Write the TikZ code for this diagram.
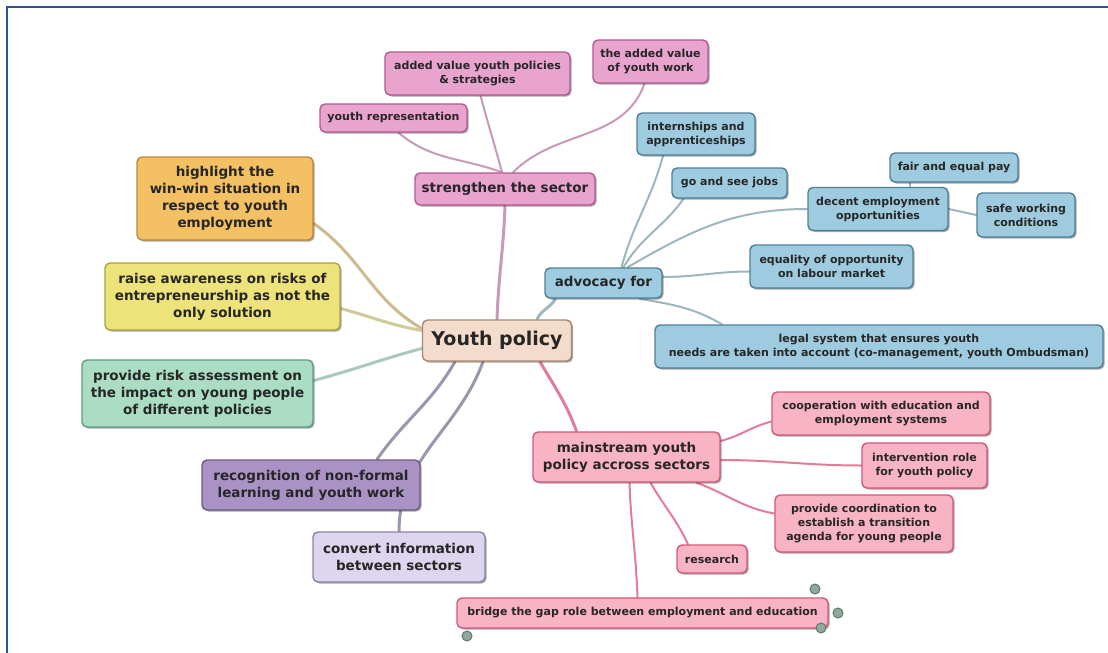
\documentclass[tikz,border=0pt]{standalone}
\usepackage{fontspec}
\setmainfont{DejaVu Sans}
\usetikzlibrary{shadows,backgrounds}

\definecolor{pinkfill}{HTML}{E9A3CF}
\definecolor{pinkdraw}{HTML}{B25A92}
\definecolor{pinklink}{HTML}{C79BB8}
\definecolor{bluefill}{HTML}{9ECBDF}
\definecolor{bluedraw}{HTML}{4F7F97}
\definecolor{bluelink}{HTML}{9FB6BF}
\definecolor{orangefill}{HTML}{F4C064}
\definecolor{orangedraw}{HTML}{B98A3C}
\definecolor{orangelink}{HTML}{CDBB8E}
\definecolor{yellowfill}{HTML}{EEE27A}
\definecolor{yellowdraw}{HTML}{ADA244}
\definecolor{yellowlink}{HTML}{CFCB98}
\definecolor{greenfill}{HTML}{ABDCC4}
\definecolor{greendraw}{HTML}{5F9C84}
\definecolor{greenlink}{HTML}{A9C9BB}
\definecolor{beigefill}{HTML}{F3DCCB}
\definecolor{beigedraw}{HTML}{A9876F}
\definecolor{purplefill}{HTML}{A993C4}
\definecolor{purpledraw}{HTML}{6C5A86}
\definecolor{purplelink}{HTML}{9C95AE}
\definecolor{lavfill}{HTML}{DDD6EE}
\definecolor{lavdraw}{HTML}{8C82A6}
\definecolor{redfill}{HTML}{F8B4C4}
\definecolor{reddraw}{HTML}{D4577A}
\definecolor{redlink}{HTML}{E27D98}
\definecolor{framecol}{HTML}{2C5590}
\definecolor{handlefill}{HTML}{8FAA9C}
\definecolor{handledraw}{HTML}{5C7A6C}

\begin{document}
\begin{tikzpicture}[x=1pt, y=1pt,
  box/.style={rectangle, rounded corners=5pt, draw, line width=1.4pt,
              align=center, inner sep=2pt, text=black!85,
              drop shadow={shadow xshift=1.5pt, shadow yshift=-1.5pt,
                           opacity=.35, fill=black}},
  leaf/.style={box, font=\fontsize{11}{14}\selectfont\bfseries},
  branch/.style={box, font=\fontsize{13.5}{17}\selectfont\bfseries},
  pinkbox/.style={fill=pinkfill, draw=pinkdraw},
  bluebox/.style={fill=bluefill, draw=bluedraw},
  redbox/.style={fill=redfill, draw=reddraw},
  link/.style={line width=2pt, line cap=round},
  thicklink/.style={line width=3pt, line cap=round},
  handle/.style={circle, draw=handledraw, fill=handlefill, line width=1pt,
                 minimum size=10pt, inner sep=0pt}
]
  \useasboundingbox (0,0) rectangle (1108,-653);
  \draw[framecol, line width=2.5pt] (7,-653) -- (7,-7) -- (1108,-7);

  % Centre
  \node[box, fill=beigefill, draw=beigedraw, minimum width=149pt, minimum height=41pt,
        font=\fontsize{19}{23}\selectfont\bfseries] (yp) at (497,-340.5) {Youth policy};

  % strengthen the sector
  \node[branch, pinkbox, minimum width=180pt, minimum height=32pt] (strength) at (505,-189) {strengthen the sector};
  \node[leaf, pinkbox, minimum width=147pt, minimum height=28pt] (yrep) at (393.5,-118) {youth representation};
  \node[leaf, pinkbox, minimum width=185pt, minimum height=43pt] (addval) at (477.5,-73.5) {added value youth policies\\\& strategies};
  \node[leaf, pinkbox, minimum width=115pt, minimum height=43pt] (theadd) at (650.5,-61.5) {the added value\\of youth work};

  % advocacy for
  \node[branch, bluebox, minimum width=117pt, minimum height=30pt] (advoc) at (603.5,-283) {advocacy for};
  \node[leaf, bluebox, minimum width=118pt, minimum height=42pt] (intern) at (696,-134) {internships and\\apprenticeships};
  \node[leaf, bluebox, minimum width=115pt, minimum height=30pt] (gosee) at (729.5,-183) {go and see jobs};
  \node[leaf, bluebox, minimum width=140pt, minimum height=43pt] (decent) at (878,-209) {decent employment\\opportunities};
  \node[leaf, bluebox, minimum width=128pt, minimum height=29pt] (fairpay) at (954,-167.5) {fair and equal pay};
  \node[leaf, bluebox, minimum width=98pt, minimum height=44pt] (safe) at (1026,-215) {safe working\\conditions};
  \node[leaf, bluebox, minimum width=163pt, minimum height=43pt] (equal) at (831.5,-266.5) {equality of opportunity\\on labour market};
  \node[leaf, bluebox, minimum width=448pt, minimum height=43pt] (legal) at (879,-346.5) {legal system that ensures youth\\needs are taken into account (co-management, youth Ombudsman)};

  % left branches
  \node[branch, fill=orangefill, draw=orangedraw, minimum width=176pt, minimum height=83pt] (highlight) at (225,-198.5) {highlight the\\win-win situation in\\respect to youth\\employment};
  \node[branch, fill=yellowfill, draw=yellowdraw, minimum width=235pt, minimum height=67pt] (raise) at (222.5,-296.5) {raise awareness on risks of\\entrepreneurship as not the\\only solution};
  \node[branch, fill=greenfill, draw=greendraw, minimum width=231pt, minimum height=67pt] (risk) at (197.5,-393.5) {provide risk assessment on\\the impact on young people\\of different policies};
  \node[branch, fill=purplefill, draw=purpledraw, minimum width=218pt, minimum height=50pt] (recog) at (311,-485) {recognition of non-formal\\learning and youth work};
  \node[branch, fill=lavfill, draw=lavdraw, minimum width=172pt, minimum height=50pt] (convert) at (399,-557) {convert information\\between sectors};

  % mainstream youth policy
  \node[branch, redbox, minimum width=187pt, minimum height=50pt] (mainstr) at (626.5,-457) {mainstream youth\\policy accross sectors};
  \node[leaf, redbox, minimum width=218pt, minimum height=43pt] (coop) at (881,-413.5) {cooperation with education and\\employment systems};
  \node[leaf, redbox, minimum width=125pt, minimum height=45pt] (interv) at (924.5,-465.5) {intervention role\\for youth policy};
  \node[leaf, redbox, minimum width=178pt, minimum height=57pt] (coord) at (864,-523.5) {provide coordination to\\establish a transition\\agenda for young people};
  \node[leaf, redbox, minimum width=70pt, minimum height=28pt] (research) at (712,-559) {research};
  \node[leaf, redbox, minimum width=371pt, minimum height=30pt] (bridge) at (642.5,-613) {bridge the gap role between employment and education};

  % Handles
  \node[handle] (h1) at (815,-589) {};
  \node[handle] (h2) at (838,-613) {};
  \node[handle] (h3) at (821,-628) {};
  \node[handle] (h4) at (467,-636) {};

  % Connexions
  \begin{scope}[on background layer]
    \fill[white] (0,0) rectangle (1108,-653);

    \draw[thicklink, pinklink] (yp.north) to[out=88, in=-92] (strength.south);
    \draw[link, pinklink] ([xshift=-3pt]strength.north) to[out=160, in=-40] ([xshift=5pt]yrep.south);
    \draw[link, pinklink] ([xshift=-3pt]strength.north) to[out=105, in=-75] ([xshift=3pt]addval.south);
    \draw[link, pinklink] ([xshift=8pt]strength.north) to[out=45, in=-110] ([xshift=-6pt]theadd.south);

    \draw[thicklink, bluelink] ([xshift=40pt]yp.north) to[out=65, in=-120] ([xshift=-48pt]advoc.south);
    \draw[link, bluelink] ([xshift=18pt]advoc.north) to[out=75, in=-105] ([xshift=-33pt]intern.south);
    \draw[link, bluelink] ([xshift=20pt]advoc.north) to[out=60, in=-125] ([xshift=-46pt]gosee.south);
    \draw[link, bluelink] ([xshift=24pt]advoc.north) to[out=30, in=180] (decent.west);
    \draw[link, bluelink] ([yshift=6pt]advoc.east) to[out=0, in=180] ([yshift=-5pt]equal.west);
    \draw[link, bluelink] ([xshift=36pt]advoc.south) to[out=-10, in=150] ([xshift=-157pt]legal.north);
    \draw[link, bluelink] ([xshift=32pt]decent.north) -- ([xshift=-44pt]fairpay.south);
    \draw[link, bluelink] (decent.east) -- (safe.west);

    \draw[thicklink, orangelink] ([yshift=-25pt]highlight.east) to[out=-35, in=150] ([yshift=12pt]yp.west);
    \draw[thicklink, yellowlink] ([yshift=-12pt]raise.east) to[out=-15, in=170] ([yshift=10pt]yp.west);
    \draw[thicklink, greenlink] ([yshift=13pt]risk.east) to[out=15, in=195] ([yshift=-8pt]yp.west);
    \draw[thicklink, purplelink] ([xshift=-42pt]yp.south) to[out=-120, in=55] ([xshift=66pt]recog.north);
    \draw[thicklink, purplelink] ([xshift=-14pt]yp.south) to[out=-110, in=90] (convert.north);

    \draw[thicklink, redlink] ([xshift=43pt]yp.south) to[out=-60, in=110] ([xshift=-50pt]mainstr.north);
    \draw[link, redlink] ([yshift=16pt]mainstr.east) to[out=15, in=195] ([yshift=-8pt]coop.west);
    \draw[link, redlink] ([yshift=-3pt]mainstr.east) to[out=0, in=180] (interv.west);
    \draw[link, redlink] ([xshift=70pt]mainstr.south) to[out=-20, in=170] ([yshift=10pt]coord.west);
    \draw[link, redlink] ([xshift=24pt]mainstr.south) to[out=-60, in=115] ([xshift=-24pt]research.north);
    \draw[link, redlink] ([xshift=3pt]mainstr.south) to[out=-88, in=92] ([xshift=-5pt]bridge.north);
  \end{scope}
\end{tikzpicture}
\end{document}
